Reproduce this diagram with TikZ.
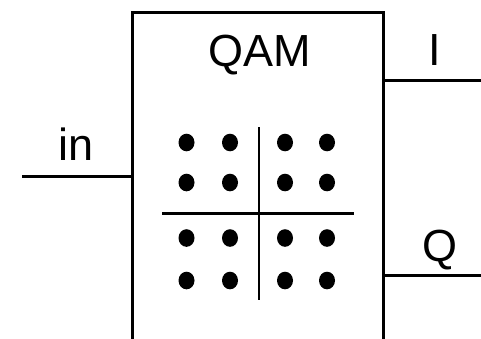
\documentclass[tikz,border=0pt]{standalone}
\usepackage{fontspec}
\setmainfont{Liberation Sans}
\begin{document}
\begin{tikzpicture}[x=1pt,y=-1pt,
  wire/.style={line width=3pt},
  axis/.style={line width=2.8pt},
  lbl/.style={font=\fontsize{45}{45}\selectfont,inner sep=0pt,anchor=base}]
\useasboundingbox (0,0) rectangle (481,338);
% box (open at the bottom)
\coordinate (bl) at (132,340);
\coordinate (tl) at (132,12);
\coordinate (tr) at (383,12);
\coordinate (br) at (383,340);
\draw[wire] (bl) -- (tl) -- (tr) -- (br);
% ports
\coordinate (inS) at (22,176);
\coordinate (inE) at (132,176);
\coordinate (iS) at (383,80.5);
\coordinate (iE) at (481,80.5);
\coordinate (qS) at (383,275);
\coordinate (qE) at (481,275);
\draw[wire] (inS) -- (inE);
\draw[wire] (iS) -- (iE);
\draw[wire] (qS) -- (qE);
% labels
\node[lbl] (qam) at (260,66) {QAM};
\node[lbl] (inl) at (76,160) {in};
\node[lbl] (il) at (435,65) {I};
\node[lbl] (ql) at (440,261) {Q};
% constellation axes
\coordinate (vt) at (259,127);
\coordinate (vb) at (259,300);
\coordinate (hl) at (162,213.5);
\coordinate (hr) at (354,213.5);
\draw[axis] (vt) -- (vb);
\draw[axis] (hl) -- (hr);
% dots
\foreach \x in {186.5,230,285,327}{
  \foreach \y in {142.5,182.5,238,280.5}{
    \fill (\x,\y) ellipse [x radius=8pt, y radius=8.8pt];
  }
}
\end{tikzpicture}
\end{document}
